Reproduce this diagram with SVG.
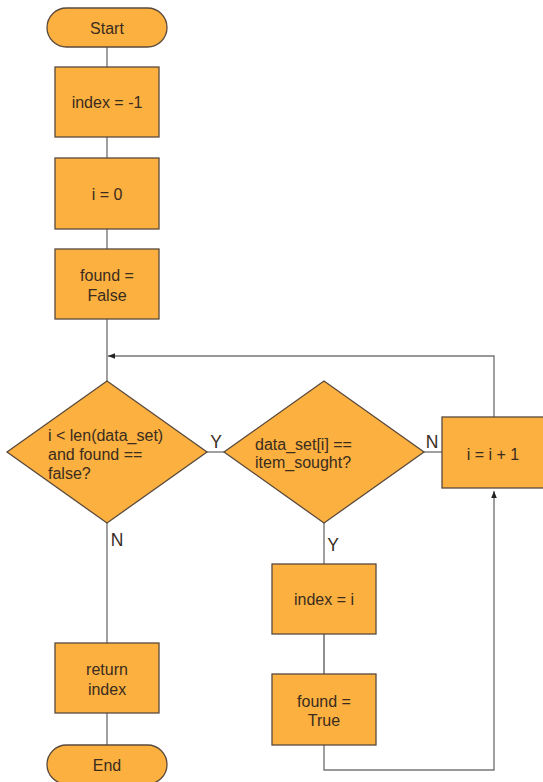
<svg xmlns="http://www.w3.org/2000/svg" width="543" height="782" viewBox="0 0 543 782">
<defs>
<style>
.n{fill:#FBB040;stroke:#5a4a3c;stroke-width:1.3}
.t{font-family:"Liberation Sans",Arial,sans-serif;font-size:16px;fill:#3a2c1e;text-anchor:middle}
.l{text-anchor:start}
.y{font-size:17.5px}
.c{fill:none;stroke:#777;stroke-width:1.4}
.d{fill:none;stroke:#333;stroke-width:1.1}
</style>
<marker id="ah" viewBox="0 0 10 10" refX="10" refY="5" markerWidth="7" markerHeight="7" orient="auto" markerUnits="userSpaceOnUse">
<path d="M0,1 L10,5 L0,9 z" fill="#222"/>
</marker>
</defs>
<rect width="543" height="782" fill="#fff"/>
<g id="connectors">
<path class="c" d="M107,47 V67"/>
<path class="c" d="M107,137 V158"/>
<path class="c" d="M107,229 V249"/>
<path class="c" d="M107,319 V381"/>
<path class="c" d="M494,417 V356 H108" marker-end="url(#ah)"/>
<path class="c" d="M107,523 V643"/>
<path class="c" d="M107,713 V745"/>
<path class="c" d="M207,452 H225"/>
<path class="c" d="M424,452 H442"/>
<path class="c" d="M324,523 V564"/>
<path class="d" d="M324,634 V674"/>
<path class="c" d="M324,745 V770 H494 V491" marker-end="url(#ah)"/>
<text class="t y" x="216" y="448">Y</text>
<text class="t y" x="432" y="448">N</text>
<text class="t y" x="117" y="546">N</text>
<text class="t y" x="333" y="551">Y</text>
</g>
<g id="start">
<rect class="n" x="47" y="8" width="120" height="39" rx="19.5"/>
<text class="t" x="107" y="33.5">Start</text>
</g>
<g id="index_init">
<rect class="n" x="55" y="67" width="104" height="70"/>
<text class="t" x="107" y="107.5">index = -1</text>
</g>
<g id="i_init">
<rect class="n" x="55" y="158" width="104" height="71"/>
<text class="t" x="107" y="199.5">i = 0</text>
</g>
<g id="found_init">
<rect class="n" x="55" y="249" width="104" height="70"/>
<text class="t" x="107" y="280.5">found =<tspan x="107" dy="20">False</tspan></text>
</g>
<g id="loop_cond">
<polygon class="n" points="107,381 207,452 107,523 7,452"/>
<text class="t l" x="48" y="440.5">i &lt; len(data_set)<tspan x="48" dy="19">and found ==</tspan><tspan x="48" dy="19">false?</tspan></text>
</g>
<g id="match_cond">
<polygon class="n" points="324,381 424,452 324,523 224,452"/>
<text class="t l" x="255" y="449.5">data_set[i] ==<tspan x="255" dy="18.5">item_sought?</tspan></text>
</g>
<g id="increment">
<rect class="n" x="442" y="417" width="102" height="71"/>
<text class="t" x="493" y="459.5">i = i + 1</text>
</g>
<g id="set_index">
<rect class="n" x="272" y="564" width="104" height="70"/>
<text class="t" x="324" y="604.5">index = i</text>
</g>
<g id="set_found">
<rect class="n" x="272" y="674" width="104" height="71"/>
<text class="t" x="324" y="706.5">found =<tspan x="324" dy="19">True</tspan></text>
</g>
<g id="return_index">
<rect class="n" x="55" y="643" width="104" height="70"/>
<text class="t" x="107" y="674.5">return<tspan x="107" dy="20">index</tspan></text>
</g>
<g id="end">
<rect class="n" x="47" y="745" width="120" height="39" rx="19.5"/>
<text class="t" x="107" y="770.5">End</text>
</g>
</svg>
